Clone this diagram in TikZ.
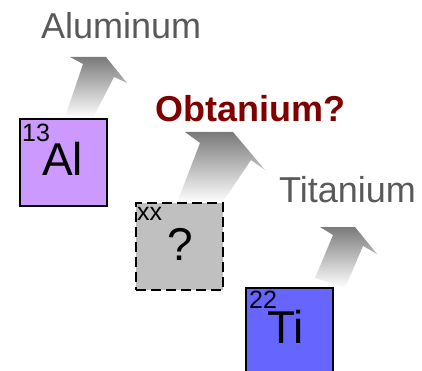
\documentclass[tikz,border=0pt]{standalone}
\usepackage{fontspec}
\setmainfont{Liberation Sans}
\usetikzlibrary{positioning}
\definecolor{alpurple}{HTML}{CC99FF}
\definecolor{tiblue}{HTML}{6666FF}
\definecolor{unkgray}{HTML}{C0C0C0}
\definecolor{darkred}{HTML}{800000}
\definecolor{labelgray}{HTML}{595959}

\begin{document}
\begin{tikzpicture}[x=1pt, y=-1pt,
  elembox/.style={draw=black, line width=2pt, minimum width=87pt, minimum height=87pt, anchor=north west, inner sep=0pt},
  elemnum/.style={anchor=base west, inner sep=0pt, font=\fontsize{25}{27}\selectfont},
  elemsym/.style={anchor=base west, inner sep=0pt, font=\fontsize{46}{50}\selectfont},
  elemname/.style={anchor=base west, inner sep=0pt, text=labelgray, font=\fontsize{36}{40}\selectfont},
  uparrow/.style={top color=black!52, bottom color=white, draw=none}]
\useasboundingbox (0,0) rectangle (422,371);
\clip (0,0) rectangle (422,371);

% shaded arrows behind the boxes
\shade[uparrow] (65,117) -- (83,64) -- (70,57) -- (106,57) -- (127,83) -- (114,77) -- (93,118) -- cycle;
\shade[uparrow] (178,200) -- (200,143) -- (185,132) -- (233,132) -- (265,170) -- (251,160) -- (222,203) -- cycle;
\shade[uparrow] (315,278) -- (333,235) -- (320,227) -- (355,227) -- (377,254) -- (363,246) -- (345,288) -- cycle;

% element boxes
\node[elembox, fill=alpurple] (al) at (19,118) {};
\node[elemnum] (alnum) at (22,142) {13};
\node[elemsym] (alsym) at (42,176) {Al};

\node[elembox, fill=unkgray, line width=2.2pt, dash pattern=on 10pt off 5pt] (unk) at (135,202) {};
\node[elemnum] (unknum) at (137,220) {xx};
\node[elemsym] (unksym) at (167,260) {?};

\node[elembox, fill=tiblue, minimum height=95pt] (ti) at (245,287) {};
\node[elemnum] (tinum) at (249,308) {22};
\node[elemsym] (tisym) at (267,343) {Ti};

% names
\node[elemname] (alname) at (41,39) {Aluminum};
\node[elemname, text=darkred, font=\fontsize{36}{40}\selectfont\bfseries] (obtname) at (155,122) {Obtanium?};
\node[elemname] (tiname) at (279,202) {Titanium};
\end{tikzpicture}
\end{document}
